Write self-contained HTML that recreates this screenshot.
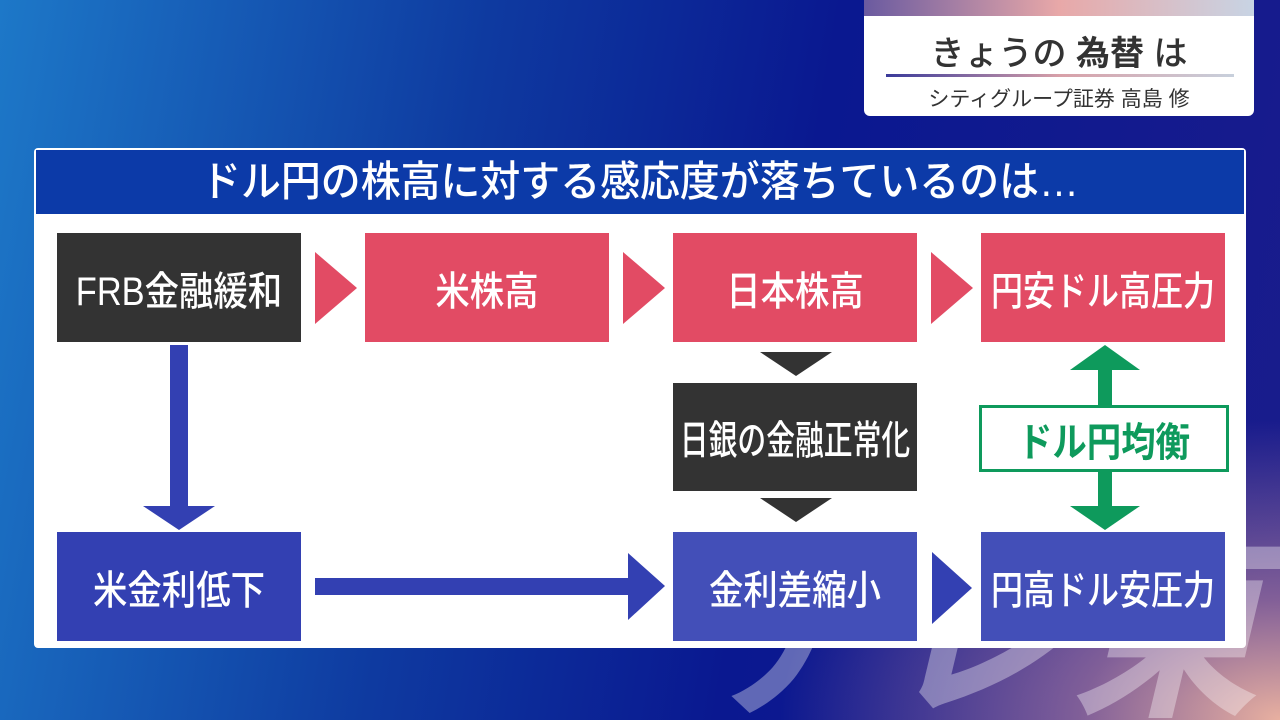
<!DOCTYPE html>
<html><head><meta charset="utf-8"><style>
*{margin:0;padding:0;box-sizing:border-box}
body{width:1280px;height:720px;overflow:hidden;position:relative;font-family:"Liberation Sans","Noto Sans CJK JP",sans-serif;
background:radial-gradient(ellipse 500px 300px at 1280px 720px,#e8b0a0 0%,rgba(200,140,160,.6) 40%,rgba(0,0,0,0) 100%),linear-gradient(100deg,#1d78c8 0%,#0e3aa0 35%,#0a1890 60%,#1a1c8c 100%)}
.abs{position:absolute}
.box{position:absolute;color:#fff;display:flex;align-items:center;justify-content:center;font-size:40px;font-weight:500;white-space:nowrap;overflow:hidden}
.box span{display:inline-block;transform:scaleX(0.86)}
.blk{background:#333333}.pink{background:#e24b64}.blue{background:#3340b2}
</style></head><body>
<div class="abs" style="left:864px;top:0;width:390px;height:116px;background:#fff;border-radius:0 0 6px 6px"></div>
<div class="abs" style="left:864px;top:0;width:390px;height:16px;background:linear-gradient(90deg,#6a5aa0,#e8a8a8 50%,#c8d4e4)"></div>
<div class="abs" style="left:864px;top:26px;width:390px;text-align:center;font-size:34px;color:#333;font-weight:500;white-space:nowrap">きょうの <b>為替</b> は</div>
<div class="abs" style="left:886px;top:74px;width:348px;height:3px;background:linear-gradient(90deg,#3a3a9a,#d8a0a8 50%,#c8d0dc)"></div>
<div class="abs" style="left:864px;top:83px;width:390px;text-align:center;font-size:21px;color:#333;white-space:nowrap">シティグループ証券 高島 修</div>

<div class="abs" style="left:34px;top:148px;width:1212px;height:500px;background:#fff;border-radius:4px"></div>

<svg class="abs" style="left:0;top:0" width="1280" height="720">
<text x="690" y="700" font-size="200" font-weight="bold" font-style="italic" fill="#fff" fill-opacity="0.35" font-family="Liberation Sans, Noto Sans CJK JP, sans-serif" textLength="570" lengthAdjust="spacingAndGlyphs">テレ東</text>
</svg>

<div class="abs" style="left:36px;top:150px;width:1208px;height:64px;background:#0c3aa8;color:#fff;font-size:42px;font-weight:500;text-align:center;line-height:64px;white-space:nowrap"><span style="display:inline-block;transform:scaleX(0.95)">ドル円の株高に対する感応度が落ちているのは…</span></div>

<div class="box blk" style="left:57px;top:233px;width:244px;height:109px"><span>FRB金融緩和</span></div>
<div class="box pink" style="left:365px;top:233px;width:244px;height:109px"><span>米株高</span></div>
<div class="box pink" style="left:673px;top:233px;width:244px;height:109px"><span>日本株高</span></div>
<div class="box pink" style="left:981px;top:233px;width:244px;height:109px"><span style="transform:scaleX(0.8)">円安ドル高圧力</span></div>
<div class="box blk" style="left:673px;top:383px;width:244px;height:108px"><span style="transform:scaleX(0.72)">日銀の金融正常化</span></div>
<div class="box blue" style="left:57px;top:532px;width:244px;height:109px"><span>米金利低下</span></div>
<div class="box blue" style="left:673px;top:532px;width:244px;height:109px;background:rgba(51,64,178,0.92)"><span>金利差縮小</span></div>
<div class="box blue" style="left:981px;top:532px;width:244px;height:109px;background:rgba(51,64,178,0.92)"><span style="transform:scaleX(0.8)">円高ドル安圧力</span></div>
<div class="box" style="left:979px;top:405px;width:250px;height:67px;background:#fff;border:3px solid #0e9a5c;color:#0e9a5c;font-weight:bold"><span>ドル円均衡</span></div>

<svg class="abs" style="left:0;top:0" width="1280" height="720">
<polygon points="315,252 357,288 315,324" fill="#e24b64"/>
<polygon points="623,252 665,288 623,324" fill="#e24b64"/>
<polygon points="931,252 973,288 931,324" fill="#e24b64"/>
<polygon points="932,552 972,588 932,624" fill="#3340b2"/>
<polygon points="760,352 832,352 796,376" fill="#333"/>
<polygon points="760,498 832,498 796,522" fill="#333"/>
<rect x="170" y="345" width="18" height="162" fill="#3340b2"/>
<polygon points="143,506 215,506 179,530" fill="#3340b2"/>
<rect x="315" y="578" width="316" height="17" fill="#3340b2"/>
<polygon points="628,553 665,586 628,620" fill="#3340b2"/>
<polygon points="1070,370 1140,370 1105,345" fill="#0e9a5c"/>
<rect x="1098" y="369" width="14" height="36" fill="#0e9a5c"/>
<rect x="1098" y="472" width="14" height="36" fill="#0e9a5c"/>
<polygon points="1070,506 1140,506 1105,530" fill="#0e9a5c"/>
</svg>
</body></html>
